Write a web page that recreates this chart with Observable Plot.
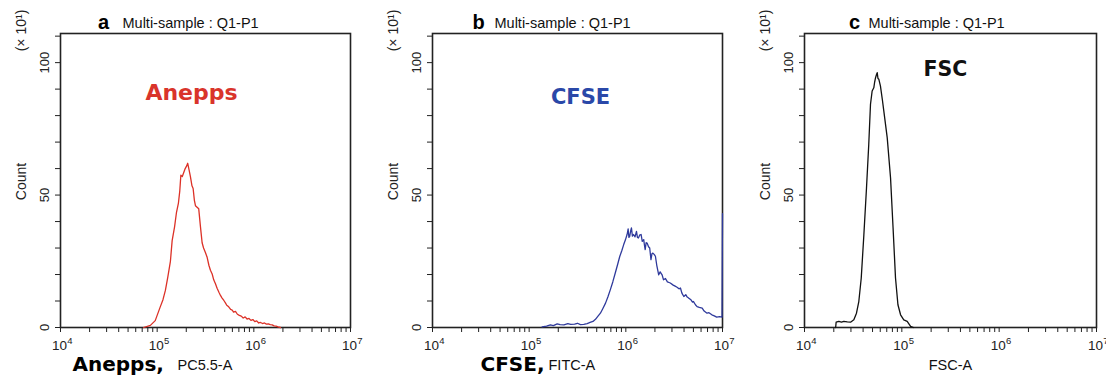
<!DOCTYPE html>
<html><head><meta charset="utf-8">
<script src="https://cdn.jsdelivr.net/npm/d3@7"></script>
<script src="https://cdn.jsdelivr.net/npm/@observablehq/plot@0.6"></script>
<style>
body{margin:0;background:#fff;}
#wrap{position:relative;width:1106px;height:375px;overflow:hidden;}
.panel{position:absolute;top:0;}
g[aria-label="inlabel-0"] text{letter-spacing:1.5px;}
g[aria-label="inlabel-2"] text{letter-spacing:4.5px;}
g[aria-label="xlabel-main-0"] text{letter-spacing:2px;}
</style></head><body><div id="wrap"></div>
<script>
// ---- data (log10 of intensity, count ×10^1) ----
const aneppsLog = [4.86,4.93,4.98,5.03,5.06,5.085,5.11,5.137,5.155,5.18,5.20,5.22,5.234,5.245,5.26,5.275,5.29,5.305,5.316,5.33,5.344,5.36,5.372,5.385,5.396,5.41,5.43,5.448,5.465,5.48,5.50,5.517,5.535,5.551,5.569,5.585,5.603,5.62,5.64,5.655,5.67,5.69,5.706,5.72,5.74,5.76,5.776,5.79,5.81,5.83,5.85,5.87,5.89,5.91,5.93,5.95,5.97,5.99,6.01,6.03,6.05,6.07,6.09,6.11,6.13,6.15,6.17,6.19,6.21,6.23,6.25,6.275];
const aneppsCount = [0,0.8,2.6,7.6,10.5,14,19,25,32.8,38,43.5,47,51.6,57.5,57,58.5,60,61,62,59.5,57,53.5,52.5,48,46,45.5,44.8,38,32,30,28.2,26.5,23.5,21.6,20.2,18,16.5,14.8,13.2,12.1,11.2,10.2,9.3,8.4,7.8,6.8,6.6,5.8,6.1,5.0,4.6,4.3,3.6,4.0,3.2,3.4,2.7,3.0,2.2,2.5,1.7,1.9,1.5,1.7,1.3,1.4,1.1,1.0,0.6,0.5,0.2,0];

const cfseLog = [5.134,5.18,5.22,5.25,5.29,5.32,5.36,5.40,5.43,5.47,5.50,5.53,5.565,5.60,5.63,5.66,5.686,5.71,5.737,5.76,5.79,5.815,5.84,5.865,5.89,5.915,5.937,5.958,5.978,5.995,6.013,6.024,6.032,6.04,6.05,6.058,6.068,6.08,6.095,6.11,6.12,6.13,6.145,6.158,6.17,6.185,6.195,6.20,6.21,6.22,6.235,6.247,6.26,6.27,6.28,6.295,6.306,6.32,6.34,6.355,6.375,6.39,6.41,6.43,6.46,6.49,6.51,6.53,6.55,6.565,6.58,6.6,6.62,6.635,6.65,6.67,6.69,6.70,6.72,6.737,6.76,6.79,6.81,6.84,6.86,6.89,6.915,6.94,6.97,6.995,7.0];
const cfseCount = [0.2,0.5,1.0,0.7,1.4,1.1,1.0,1.5,1.2,1.3,1.6,1.1,1.2,1.5,1.9,2.3,3.1,4.2,5.4,7.0,9.2,11.6,14.3,17.2,20.5,23.8,26.8,29.0,31.3,33.0,35.1,37.2,34.0,34.4,36.5,37.6,34.5,35.1,34.2,36.3,34.0,33.8,35.0,35.1,32.5,33.2,30.5,29.4,32.0,31.9,30.5,30.0,25.6,27.8,28.1,27.5,26.9,23.5,19.9,21.0,19.9,18.0,18.5,17.2,16.8,16.0,15.6,15.2,14.6,14.9,13.0,11.7,12.4,11.5,11.1,10.6,9.6,9.8,8.6,7.9,7.6,7.3,6.2,5.4,5.6,4.8,4.4,3.9,4.1,3.9,43];

const fscLog = [4.32,4.325,4.353,4.38,4.404,4.44,4.473,4.507,4.534,4.558,4.583,4.61,4.637,4.66,4.678,4.695,4.712,4.72,4.73,4.74,4.747,4.755,4.764,4.78,4.80,4.815,4.85,4.884,4.91,4.935,4.96,4.987,5.02,5.055,5.09,5.12];
const fscCount = [0,2.0,2.3,2.0,2.3,2.1,2.0,2.9,5.4,9.8,18.7,35,52.7,69,84.3,89.3,90.5,92.5,94.3,95.5,96.2,94,93.7,91.2,86,81.7,71.6,56.5,37.6,18.7,8.6,4.8,2.9,2.3,0.4,0];

const xMajorTicks = [1e4, 1e5, 1e6, 1e7];
const xTickBase = "10";
const xTickExponents = ["4", "5", "6", "7"];
const yLabelTicks = [0, 50, 100];
const panelLetters = ["a", "b", "c"];
const panelTitle = "Multi-sample : Q1-P1";
const insideLabels = ["Anepps", "CFSE", "FSC"];
const xLabelMain = ["Anepps,", "CFSE,", ""];
const xLabelSub = ["PC5.5-A", "FITC-A", "FSC-A"];

const ARIAL = "'Liberation Sans', Arial, sans-serif";
const WIDE = "'DejaVu Sans', Verdana, sans-serif";

const allXTicks = [];
for (let e = 4; e < 7; e++) for (let m = 1; m <= 9; m++) allXTicks.push(m * 10 ** e);
allXTicks.push(1e7);
const yMinor = d3.range(0, 111, 10);

const panels = [
  {left: 0, width: 372, mr: 22, logs: aneppsLog, counts: aneppsCount, color: "#dc3127", labColor: "#d9342b",
   letterDx: 43, titleDx: 62, inDx: 131, inDy: 59, inSize: 22, xl: {mainDx: 12, subDx: 117}},
  {left: 372, width: 372, mr: 22, logs: cfseLog, counts: cfseCount, color: "#2f3a9c", labColor: "#2a48a8",
   letterDx: 46, titleDx: 62, inDx: 148, inDy: 64, inSize: 21, xl: {mainDx: 48, subDx: 116}},
  {left: 744, width: 362, mr: 10, logs: fscLog, counts: fscCount, color: "#111", labColor: "#111",
   letterDx: 50, titleDx: 64, inDx: 141, inDy: 36, inSize: 20.5, xl: {centerDx: 146}}
];

const wrap = document.getElementById("wrap");
panels.forEach((p, k) => {
  const rows = p.logs.map((v, i) => ({x: 10 ** v, y: p.counts[i]}));
  const marks = [
    Plot.text(xMajorTicks, {x: (d) => d, frameAnchor: "bottom", text: () => xTickBase, dx: -1, dy: 22.5, lineAnchor: "bottom", textAnchor: "middle", fontSize: 13.5, fill: "#222"}),
    Plot.text(xMajorTicks, {x: (d) => d, frameAnchor: "bottom", text: (d, i) => xTickExponents[i], dx: 9.5, dy: 16.5, lineAnchor: "bottom", textAnchor: "middle", fontSize: 9.5, fill: "#222"}),
    Plot.text(yLabelTicks, {y: (d) => d, frameAnchor: "left", dx: -16, rotate: -90, textAnchor: "middle", lineAnchor: "middle", text: (d) => String(d), fontSize: 13, fill: "#222"}),
    Plot.text(["Count"], {text: (d) => d, frameAnchor: "left", dx: -39, dy: 1, rotate: -90, textAnchor: "middle", lineAnchor: "middle", fontSize: 14, fill: "#222"}),
    Plot.text(["(\u00d7 10\u00b9)"], {text: (d) => d, frameAnchor: "top-left", dx: -39, dy: -3, rotate: -90, textAnchor: "middle", lineAnchor: "middle", fontSize: 14, fill: "#222"}),
    Plot.frame({stroke: "#222", strokeWidth: 1.6}),
    Plot.line(rows, {x: "x", y: "y", stroke: p.color, strokeWidth: 1.3}),
    Plot.text([panelLetters[k]], {text: (d) => d, frameAnchor: "top-left", dx: p.letterDx, dy: -5, lineAnchor: "bottom", textAnchor: "middle", fontSize: 20, fontWeight: "bold", fill: "#000"}),
    Plot.text([panelTitle], {text: (d) => d, frameAnchor: "top-left", dx: p.titleDx, dy: -6, lineAnchor: "bottom", textAnchor: "start", fontSize: 14.5, fill: "#111"}),
    Plot.text([insideLabels[k]], {ariaLabel: "inlabel-" + k, text: (d) => d, frameAnchor: "top-left", dx: p.inDx, dy: p.inDy, lineAnchor: "middle", textAnchor: "middle", fontSize: p.inSize, fontWeight: "bold", fontFamily: WIDE, fill: p.labColor})
  ];
  if (p.xl.centerDx !== undefined) {
    marks.push(Plot.text([xLabelSub[k]], {text: (d) => d, frameAnchor: "bottom-left", dx: p.xl.centerDx, dy: 42, lineAnchor: "bottom", textAnchor: "middle", fontSize: 14.5, fill: "#111"}));
  } else {
    marks.push(Plot.text([xLabelMain[k]], {ariaLabel: "xlabel-main-" + k, text: (d) => d, frameAnchor: "bottom-left", dx: p.xl.mainDx, dy: 43, lineAnchor: "bottom", textAnchor: "start", fontSize: 20, fontWeight: "bold", fontFamily: WIDE, fill: "#000"}));
    marks.push(Plot.text([xLabelSub[k]], {text: (d) => d, frameAnchor: "bottom-left", dx: p.xl.subDx, dy: 42, lineAnchor: "bottom", textAnchor: "start", fontSize: 14.5, fill: "#111"}));
  }
  const svg = Plot.plot({
    width: p.width, height: 375,
    marginLeft: 60, marginRight: p.mr, marginTop: 33, marginBottom: 48,
    style: {fontFamily: ARIAL, fontSize: "13px", background: "transparent", overflow: "visible", color: "#222"},
    x: {type: "log", domain: [1e4, 1e7], label: null, ticks: allXTicks, tickSize: 5, tickFormat: () => ""},
    y: {domain: [0, 111], label: null, ticks: yMinor, tickSize: 5, tickFormat: () => ""},
    marks
  });
  const div = document.createElement("div");
  div.className = "panel";
  div.style.left = p.left + "px";
  div.appendChild(svg);
  wrap.appendChild(div);
});
</script></body></html>
